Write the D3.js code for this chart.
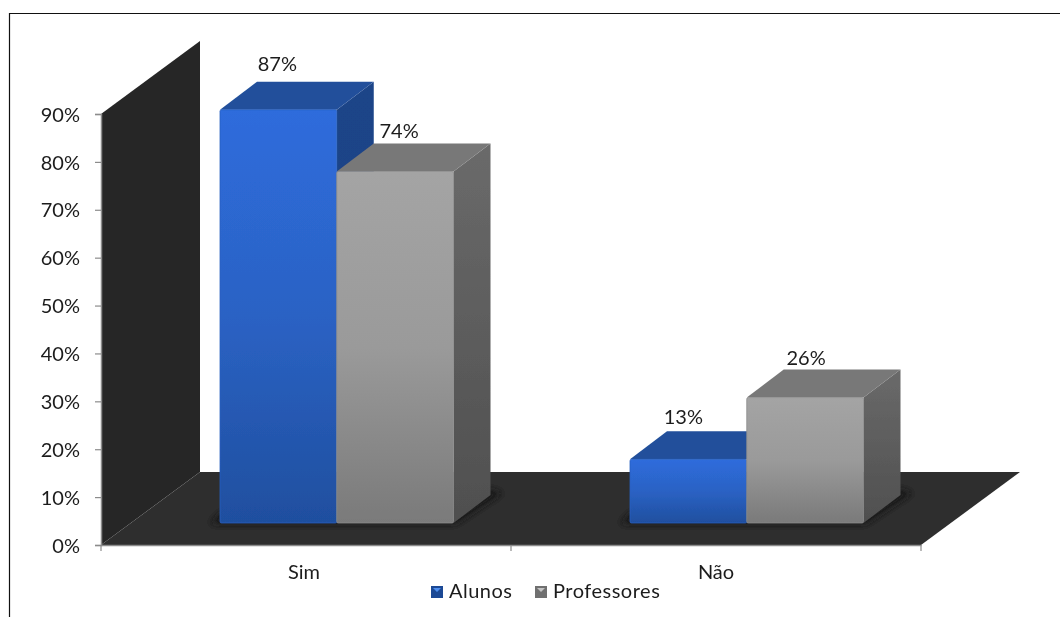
<!DOCTYPE html>
<html><head><meta charset="utf-8">
<script src="https://cdn.jsdelivr.net/npm/d3@7/dist/d3.min.js"></script>
<style>html,body{margin:0;padding:0;background:#fff}svg{display:block}text{font-family:Lato,sans-serif;fill:#1c1c1c}</style>
</head><body><script>
const categories = ["Sim", "Não"];
const seriesNames = ["Alunos", "Professores"];
const alunos = [87, 13.4];
const professores = [74, 26.4];
const tickValues = [0,10,20,30,40,50,60,70,80,90];

const W=1060,H=617,FS=20;
const svg=d3.select("body").append("svg").attr("width",W).attr("height",H);
const defs=svg.append("defs");
function grad(id,stops){
  const g=defs.append("linearGradient").attr("id",id).attr("x1",0).attr("y1",0).attr("x2",0).attr("y2",1);
  stops.forEach((c,i)=>g.append("stop").attr("offset",i/(stops.length-1)).attr("stop-color",c));
}
grad("blueF",["#2e6cdc","#2b62c4","#1f4f9f"]);
grad("grayF",["#a4a4a4","#9a9a9a","#7a7a7a"]);
grad("blueS",["#1d4488","#1c4285"]);
grad("grayS",["#6a6a6a","#4f4f4f"]);
defs.append("filter").attr("id","soft").attr("x","-10%").attr("y","-10%").attr("width","120%").attr("height","120%")
  .append("feGaussianBlur").attr("stdDeviation",0.45);
defs.append("filter").attr("id","textsoft").attr("x","-10%").attr("y","-20%").attr("width","120%").attr("height","140%")
  .append("feGaussianBlur").attr("stdDeviation",0.3);
defs.append("filter").attr("id","shadow").attr("x","-20%").attr("y","-40%").attr("width","140%").attr("height","180%")
  .append("feGaussianBlur").attr("stdDeviation",3.5);

svg.append("path").attr("d",`M9.5,${H} V13.5 H${W}`).attr("fill","none").attr("stroke","#111").attr("stroke-width",1.2);

const y=d3.scaleLinear().domain([0,90]).range([545,114]);
const x=d3.scaleBand().domain(categories).range([101,921]);
const barY=d3.scaleLinear().domain([0,90]).range([523,95.5]);
const serX=d3.scaleBand().domain(seriesNames).range([0,233.5]);
const depthX=99,depthY=73,barDX=37,barDY=28;

const plot=svg.append("g").attr("filter","url(#soft)");
const line=d3.line();
plot.append("path").attr("d",line([[x.range()[0],y(0)],[x.range()[0],y(90)],[x.range()[0]+depthX,y(90)-depthY],[x.range()[0]+depthX,y(0)-depthY]])+"Z").attr("fill","#282828");
plot.append("path").attr("d",line([[x.range()[0],y(0)],[x.range()[1],y(0)],[x.range()[1]+depthX,y(0)-depthY],[x.range()[0]+depthX,y(0)-depthY]])+"Z").attr("fill","#2f2f2f");

const labels=svg.append("g").attr("filter","url(#textsoft)");
const yAxis=d3.axisLeft(y).tickValues(tickValues).tickSize(6).tickFormat(d=>d+"%");
const gy=labels.append("g").attr("transform",`translate(${x.range()[0]},0)`).call(yAxis);
gy.select(".domain").attr("stroke","#8c8c8c").attr("stroke-width",1.5);
gy.selectAll(".tick line").attr("stroke","#8c8c8c").attr("stroke-width",1.2);
gy.selectAll("text").attr("font-size",FS).attr("x",-21).attr("dy","0.36em").attr("text-anchor","end").style("font-family","Lato,sans-serif").attr("fill","#1c1c1c");

const xAxis=d3.axisBottom(x).tickSize(0).tickPadding(0);
const gx=labels.append("g").attr("transform",`translate(0,${y(0)})`).call(xAxis);
gx.select(".domain").attr("stroke","#8c8c8c").attr("stroke-width",1.5);
const xTicks=[x.range()[0],...categories.map(c=>x(c)+x.bandwidth())];
gx.selectAll("line.sep").data(xTicks).join("line").attr("class","sep").attr("x1",d=>d).attr("x2",d=>d).attr("y1",0).attr("y2",6).attr("stroke","#8c8c8c").attr("stroke-width",1.2);
gx.selectAll(".tick text").attr("y",27).attr("dy","0.36em").attr("dx",(d,i)=>i===0?-2:0).attr("font-size",FS).style("font-family","Lato,sans-serif").attr("fill","#1c1c1c");

const rows=[];
categories.forEach((c,i)=>{
  rows.push({c,s:seriesNames[0],v:alunos[i],blue:true});
  rows.push({c,s:seriesNames[1],v:professores[i],blue:false});
});
const barInset=d=>x(d)+119;
categories.forEach(c=>{
  const l=barInset(c),r=l+serX.range()[1];
  plot.append("path").attr("filter","url(#shadow)").attr("fill","#141414").attr("opacity",0.9)
    .attr("d",line([[l-10,523+1],[r+2,523+1],[r+barDX+12,523-barDY-2],[r+barDX,523-barDY-6],[r,523-10],[l,523-10]])+"Z");
});
const bw=serX.bandwidth();
const labelShift=[[-1,-4],[4,1],[-5,-1],[1,2]];
rows.forEach((d,i)=>{
  const L=barInset(d.c)+serX(d.s),R=L+bw,T=barY(d.v),B=barY(0);
  const k=d.blue?"blue":"gray";
  const g=plot.append("g");
  g.append("path").attr("d",line([[R,T],[R+barDX,T-barDY],[R+barDX,B-barDY],[R,B]])+"Z").attr("fill",`url(#${k}S)`);
  g.append("path").attr("d",line([[L,T],[L+barDX,T-barDY],[R+barDX,T-barDY],[R,T]])+"Z").attr("fill",d.blue?"#21509b":"#787878");
  g.append("rect").attr("x",L).attr("y",T).attr("width",bw).attr("height",B-T).attr("rx",1.5).attr("fill",`url(#${k}F)`)
    .attr("stroke",d.blue?"#2a5fc0":"#8e8e8e").attr("stroke-width",0.8);
  labels.append("text").attr("x",L+bw/2+labelShift[i][0]).attr("y",T-barDY-14+labelShift[i][1]).attr("dy","0.36em")
    .attr("text-anchor","middle").attr("font-size",FS).text(Math.round(d.v)+"%");
});

const legX=[431,535];
const legend=svg.append("g").attr("filter","url(#textsoft)");
seriesNames.forEach((n,i)=>{
  legend.append("rect").attr("x",legX[i]).attr("y",586).attr("width",12).attr("height",12).attr("fill",i===0?"#1f4a95":"#707070");
  legend.append("path").attr("d",line([[legX[i]+2,588],[legX[i]+10,588],[legX[i]+6,592]])+"Z").attr("fill",i===0?"#4f8ff0":"#c4c4c4");
  legend.append("text").attr("x",legX[i]+18).attr("y",591).attr("dy","0.36em").attr("font-size",FS).attr("letter-spacing",0.5).text(n);
});
</script></body></html>
